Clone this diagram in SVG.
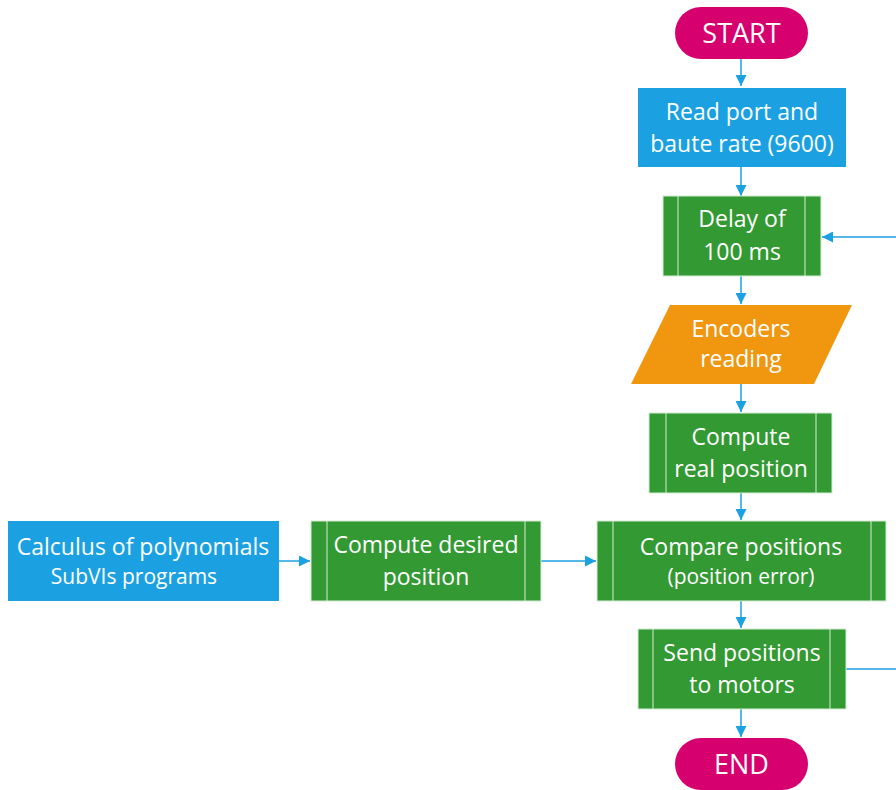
<svg xmlns="http://www.w3.org/2000/svg" width="896" height="790" viewBox="0 0 896 790">
<defs>
<style>
.term{fill:#D6006F;}
.proc{fill:#1BA1E2;}
.sub{fill:#339933;stroke:#d6ecd6;stroke-width:1;}
.bar{stroke:#d6ecd6;stroke-width:1;}
.io{fill:#F0960F;}
.t{font-family:"Open Sans","Liberation Sans",sans-serif;fill:#fff;text-anchor:middle;font-size:23px;}
.s{font-size:21px;}
.b{font-size:27px;}
.c{fill:none;stroke:#1BA1E2;stroke-width:1.5;}
</style>
<marker id="ah" viewBox="0 0 10 10" refX="10" refY="5" markerWidth="11" markerHeight="11" markerUnits="userSpaceOnUse" orient="auto">
<path d="M0,0 L10,5 L0,10 z" fill="#1BA1E2"/>
</marker>
</defs>
<rect width="896" height="790" fill="#fff"/>
<g id="connectors">
<path class="c" d="M741,59 V86" marker-end="url(#ah)"/>
<path class="c" d="M741,167 V196" marker-end="url(#ah)"/>
<path class="c" d="M741,276 V304" marker-end="url(#ah)"/>
<path class="c" d="M741,384 V412" marker-end="url(#ah)"/>
<path class="c" d="M741,493 V520" marker-end="url(#ah)"/>
<path class="c" d="M741,601 V628" marker-end="url(#ah)"/>
<path class="c" d="M741,709 V737" marker-end="url(#ah)"/>
<path class="c" d="M279,561 H310" marker-end="url(#ah)"/>
<path class="c" d="M541,561 H596" marker-end="url(#ah)"/>
<path class="c" d="M846,669 H902 V237 H822" marker-end="url(#ah)"/>
</g>
<g id="start">
<rect class="term" x="675" y="7" width="133" height="52" rx="26"/>
<text class="t b" x="741.5" y="43">START</text>
</g>
<g id="read">
<rect class="proc" x="638" y="88" width="208" height="79"/>
<text class="t" x="742" y="120">Read port and</text>
<text class="t" x="742" y="152">baute rate (9600)</text>
</g>
<g id="delay">
<rect class="sub" x="663" y="196" width="158" height="80"/>
<line class="bar" x1="678" y1="196" x2="678" y2="276"/>
<line class="bar" x1="805" y1="196" x2="805" y2="276"/>
<text class="t" x="742" y="227">Delay of</text>
<text class="t" x="742" y="260">100 ms</text>
</g>
<g id="encoders">
<polygon class="io" points="670,305 852,305 814,384 631,384"/>
<text class="t" x="741" y="337">Encoders</text>
<text class="t" x="741" y="367">reading</text>
</g>
<g id="real">
<rect class="sub" x="649" y="413" width="183" height="80"/>
<line class="bar" x1="666" y1="413" x2="666" y2="493"/>
<line class="bar" x1="816" y1="413" x2="816" y2="493"/>
<text class="t" x="741" y="445">Compute</text>
<text class="t" x="741" y="477">real position</text>
</g>
<g id="compare">
<rect class="sub" x="597" y="521" width="289" height="80"/>
<line class="bar" x1="613" y1="521" x2="613" y2="601"/>
<line class="bar" x1="871" y1="521" x2="871" y2="601"/>
<text class="t" x="741" y="555">Compare positions</text>
<text class="t s" x="741" y="584">(position error)</text>
</g>
<g id="calculus">
<rect class="proc" x="8" y="521" width="271" height="80"/>
<text class="t" x="143" y="555">Calculus of polynomials</text>
<text class="t s" x="134" y="584">SubVIs programs</text>
</g>
<g id="desired">
<rect class="sub" x="311" y="521" width="230" height="80"/>
<line class="bar" x1="327" y1="521" x2="327" y2="601"/>
<line class="bar" x1="525" y1="521" x2="525" y2="601"/>
<text class="t" x="426" y="553">Compute desired</text>
<text class="t" x="426" y="585">position</text>
</g>
<g id="send">
<rect class="sub" x="638" y="629" width="208" height="80"/>
<line class="bar" x1="653" y1="629" x2="653" y2="709"/>
<line class="bar" x1="830" y1="629" x2="830" y2="709"/>
<text class="t" x="742" y="661">Send positions</text>
<text class="t" x="742" y="693">to motors</text>
</g>
<g id="end">
<rect class="term" x="675" y="738" width="133" height="52" rx="26"/>
<text class="t b" x="741.5" y="774">END</text>
</g>
</svg>
